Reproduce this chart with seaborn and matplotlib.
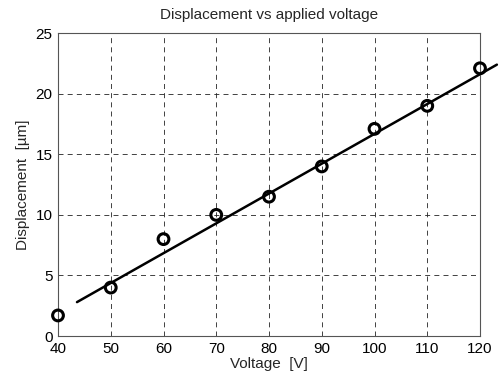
import matplotlib
matplotlib.use("Agg")
import matplotlib.pyplot as plt
import seaborn as sns
import pandas as pd

voltage = [40, 50, 60, 70, 80, 90, 100, 110, 120]
displacement = [1.7, 4.0, 8.0, 10.0, 11.5, 14.0, 17.1, 19.0, 22.1]
fit_voltage = [43.6, 123.2]
fit_displacement = [2.8, 22.4]
x_ticks = [40, 50, 60, 70, 80, 90, 100, 110, 120]
y_ticks = [0, 5, 10, 15, 20, 25]

sns.set_style("white")
plt.rcParams["font.family"] = ["Liberation Sans", "DejaVu Sans"]

df = pd.DataFrame({"Voltage": voltage, "Displacement": displacement})
fit = pd.DataFrame({"Voltage": fit_voltage, "Displacement": fit_displacement})

fig = plt.figure(figsize=(5.0, 3.81), dpi=100)
ax = fig.add_axes([0.116, 0.118, 0.844, 0.795])
ax.set_xlim(40, 120)
ax.set_ylim(0, 25)
ax.set_xticks(x_ticks)
ax.set_yticks(y_ticks)
ax.grid(True, color="#222222", linestyle=(0, (6, 5)), linewidth=0.6)
ax.set_axisbelow(True)

sns.lineplot(data=fit, x="Voltage", y="Displacement", ax=ax, color="black",
             linewidth=1.8, clip_on=False)
sns.scatterplot(data=df, x="Voltage", y="Displacement", ax=ax, marker="o",
                s=60, facecolor="none", edgecolor="black", linewidth=2.2,
                clip_on=False, zorder=5)

for sp in ax.spines.values():
    sp.set_color("#555555")
    sp.set_linewidth(0.8)
ax.tick_params(direction="in", length=3, width=0.8, colors="black",
               labelsize=11, pad=4)
ax.set_xlabel("Voltage  [V]", fontsize=11, labelpad=1)
ax.set_ylabel("Displacement  [\u00b5m]", fontsize=11, labelpad=4)
ax.set_title("Displacement vs applied voltage", fontsize=11, pad=10)

fig.savefig("out.png", dpi=100)
